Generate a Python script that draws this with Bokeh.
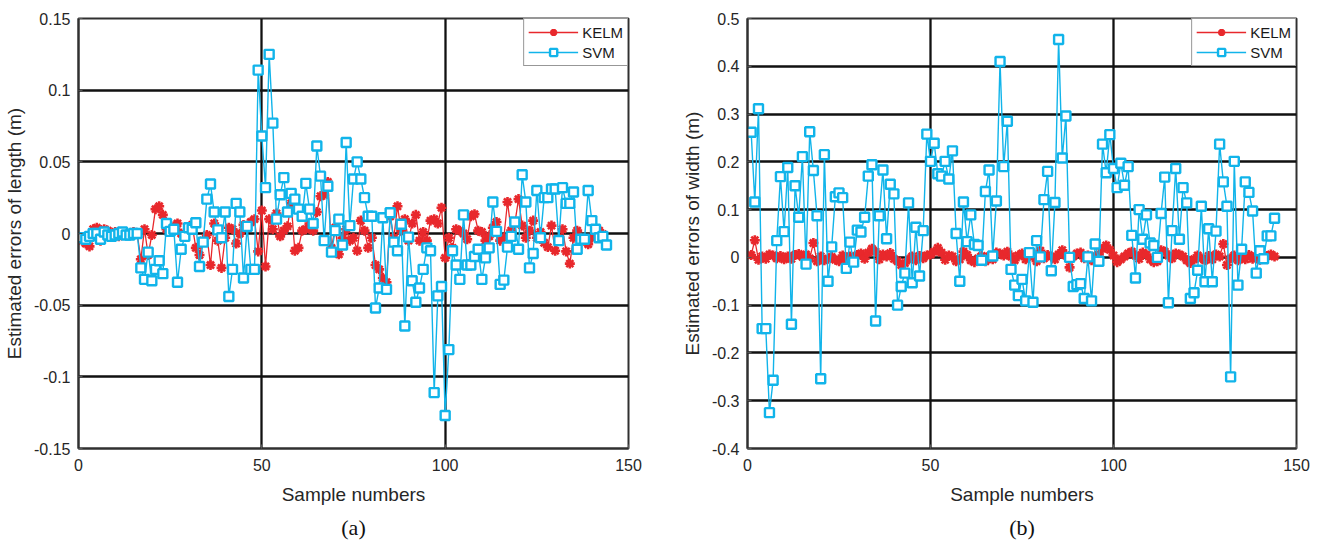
from bokeh.plotting import figure
from bokeh.layouts import row
from bokeh.models import FixedTicker, Legend, LegendItem, Title
from bokeh.embed import file_html
from bokeh.resources import INLINE

# ---------------- data ----------------
samples = list(range(1, 145))

kelm_length = [
    -0.005, -0.007, -0.009, 0.003, 0.004, -0.005, 0.003, 0.002, -0.001, 0.001, -0.002, 0.001, 0.000, -0.001, 0.001, 0.000,
    -0.018, 0.003, -0.015, -0.001, 0.017, 0.019, 0.013, 0.003, 0.002, 0.005, 0.007, 0.000, -0.001, 0.004, 0.006, -0.010,
    -0.015, -0.005, -0.001, -0.022, 0.007, -0.005, -0.024, -0.003, 0.004, 0.003, -0.007, 0.000, 0.006, 0.005, 0.008, 0.010,
    -0.0125, 0.016, -0.023, 0.010, 0.003, 0.014, -0.002, 0.002, 0.005, 0.021, -0.012, -0.010, 0.002, 0.003, 0.007, 0.002,
    0.015, 0.026, 0.027, 0.036, -0.010, 0.004, -0.0145, -0.003, 0.003, -0.005, -0.003, -0.012, 0.009, 0.002, -0.010, -0.003,
    -0.022, -0.025, -0.031, -0.034, 0.012, -0.003, 0.019, 0.002, 0.010, -0.005, 0.007, 0.013, -0.005, 0.001, -0.005, 0.009,
    0.010, 0.007, 0.018, -0.017, -0.003, -0.010, 0.003, 0.002, 0.000, -0.004, 0.012, 0.0135, 0.002, 0.001, -0.005, -0.002,
    0.004, 0.008, -0.005, -0.003, 0.022, 0.002, 0.007, 0.024, 0.0055, -0.003, 0.002, 0.009, -0.003, 0.001, -0.0065, -0.0095,
    0.0055, -0.012, -0.005, 0.003, -0.0125, -0.021, -0.003, 0.002, -0.003, -0.005, -0.0075, -0.003, 0.001, 0.002, -0.0005, -0.0075,
]

svm_length = [
    -0.003, -0.004, -0.002, 0.000, 0.000, -0.004, 0.001, -0.001, -0.002, -0.001, 0.000, 0.001, -0.001, -0.001, 0.000, 0.000,
    -0.024, -0.032, -0.013, -0.033, -0.025, -0.019, -0.028, 0.007, 0.0015, 0.003, -0.034, -0.011, -0.002, 0.004,
    0.003, 0.0075, -0.023, -0.006, 0.024, 0.0345, 0.015, 0.0025, -0.003, 0.015, -0.044, -0.025, 0.021, 0.015, -0.031, 0.005, -0.025, -0.025,
    0.114, 0.068, 0.032, 0.125, 0.077, 0.010, 0.027, 0.039, 0.015, 0.028, 0.024, 0.017, 0.012, 0.035, 0.017, 0.007,
    0.061, 0.040, -0.005, 0.033, -0.013, 0.002, 0.010, -0.008, 0.0635, 0.0055, 0.038, 0.050, 0.038, 0.025, 0.012, 0.012,
    -0.052, -0.038, 0.011, -0.039, 0.0145, -0.006, -0.012, 0.0065, -0.0645, -0.0025, -0.033, -0.048, -0.038, -0.025, -0.010, -0.012,
    -0.111, -0.0435, -0.037, -0.127, -0.081, -0.012, -0.022, -0.032, 0.013, -0.022, -0.022, -0.016, -0.011, -0.032, -0.017, -0.010,
    0.022, 0.0015, -0.0355, -0.0325, -0.0095, -0.002, 0.008, -0.011, 0.041, 0.022, -0.024, -0.014, 0.030, -0.003, 0.025, 0.025,
    0.031, 0.031, -0.005, 0.032, 0.021, 0.021, 0.029, -0.011, -0.004, -0.004, 0.030, 0.009, 0.003, -0.003, -0.002, -0.008,
]

kelm_width = [
    0.005, 0.036, -0.005, 0.002, -0.003, 0.006, 0.004, -0.002, 0.003, -0.004, 0.002, -0.003, 0.005, 0.007, 0.001, 0.006,
    -0.002, 0.030, -0.008, 0.002, -0.006, -0.003, 0.001, -0.005, -0.008, 0.004, -0.006, 0.002, -0.002, 0.005, 0.008, -0.003,
    0.010, 0.018, 0.012, -0.004, 0.006, 0.002, 0.009, -0.003, -0.008, -0.016, -0.012, -0.004, 0.002, -0.006, 0.003, -0.002,
    0.004, 0.006, 0.012, 0.020, 0.010, -0.005, 0.004, 0.002, -0.008, -0.004, 0.012, 0.005, -0.006, -0.010, -0.002, 0.003,
    -0.008, 0.002, -0.004, 0.010, 0.008, 0.004, 0.012, 0.002, -0.006, 0.004, 0.008, -0.004, 0.006, 0.002, -0.008, 0.014,
    -0.002, 0.005, 0.002, -0.004, 0.006, 0.015, 0.004, -0.021, 0.002, 0.008, 0.010, -0.002, 0.004, -0.006, 0.003, 0.006,
    0.018, 0.025, 0.016, 0.004, -0.010, -0.004, 0.002, 0.008, 0.012, 0.004, -0.003, 0.010, 0.006, -0.004, -0.010, -0.008,
    0.015, 0.012, 0.004, -0.002, 0.008, 0.006, 0.002, -0.006, -0.012, -0.004, 0.004, -0.002, -0.006, 0.003, -0.004, 0.006,
    0.002, 0.028, -0.016, -0.002, 0.004, -0.006, 0.002, -0.004, 0.005, -0.003, 0.002, -0.005, 0.004, 0.003, 0.006, 0.002,
]

svm_width = [
    0.262, 0.116, 0.311, -0.149, -0.149, -0.325, -0.257, 0.035, 0.169, 0.054, 0.188, -0.140, 0.150, 0.084, 0.211, -0.014,
    0.263, 0.182, 0.087, -0.254, 0.215, -0.050, 0.022, 0.127, 0.135, 0.125, -0.023, 0.032, -0.010, 0.057, 0.053, 0.084,
    0.170, 0.194, -0.133, 0.087, 0.183, 0.039, 0.153, 0.133, -0.100, -0.061, -0.033, 0.114, -0.053, 0.063, -0.039, 0.056,
    0.258, 0.201, 0.239, 0.175, 0.170, 0.201, 0.164, 0.223, 0.050, -0.050, 0.116, 0.033, 0.089, 0.027, 0.025, -0.006,
    0.138, 0.183, 0.003, 0.118, 0.410, 0.190, 0.285, -0.025, -0.058, -0.080, -0.046, -0.091, 0.010, -0.094, 0.035, 0.001,
    0.121, 0.180, -0.028, 0.115, 0.456, 0.208, 0.296, 0.000, -0.061, -0.057, -0.055, -0.086, 0.001, -0.091, 0.028, -0.008,
    0.237, 0.177, 0.257, 0.186, 0.146, 0.197, 0.151, 0.190, 0.046, -0.043, 0.100, 0.038, 0.089, 0.030, 0.025, 0.000,
    0.092, 0.168, -0.095, 0.056, 0.186, 0.038, 0.146, 0.114, -0.086, -0.074, -0.027, 0.107, -0.051, 0.060, -0.051, 0.055,
    0.237, 0.158, 0.107, -0.250, 0.201, -0.058, 0.017, 0.158, 0.136, 0.097, -0.033, 0.014, -0.003, 0.045, 0.045, 0.082,
]

x_ticks = [0, 50, 100, 150]
y_ticks_a = [-0.15, -0.1, -0.05, 0, 0.05, 0.1, 0.15]
y_labels_a = ["-0.15", "-0.1", "-0.05", "0", "0.05", "0.1", "0.15"]
y_ticks_b = [-0.4, -0.3, -0.2, -0.1, 0, 0.1, 0.2, 0.3, 0.4, 0.5]
y_labels_b = ["-0.4", "-0.3", "-0.2", "-0.1", "0", "0.1", "0.2", "0.3", "0.4", "0.5"]

RED = "#e8282c"
CYAN = "#11b4ea"
SANS = "Liberation Sans"


def make_panel(kelm, svm, yr, yticks, ylabels, ylabel, caption, bl, br, bt, bb):
    p = figure(width=661, height=544, x_range=(0, 150), y_range=yr,
               output_backend="svg", toolbar_location=None,
               min_border_left=bl, min_border_right=br,
               min_border_top=bt, min_border_bottom=bb)
    p.background_fill_color = "white"
    p.border_fill_color = "white"
    p.outline_line_color = "#303030"
    p.outline_line_width = 2

    for ax in (p.xaxis[0], p.yaxis[0]):
        ax.axis_line_color = "#303030"
        ax.axis_line_width = 2
        ax.major_tick_in = 4
        ax.major_tick_out = 0
        ax.minor_tick_line_color = None
        ax.major_tick_line_color = "#555555"
        ax.major_label_text_font = SANS
        ax.major_label_text_font_size = "16px"
        ax.major_label_text_color = "#262626"
        ax.axis_label_text_font = SANS
        ax.axis_label_text_font_size = "19px"
        ax.axis_label_text_font_style = "normal"
        ax.axis_label_text_color = "#262626"

    p.xaxis.ticker = FixedTicker(ticks=x_ticks)
    p.yaxis.ticker = FixedTicker(ticks=yticks)
    p.yaxis.major_label_overrides = {t: s for t, s in zip(yticks, ylabels)}
    p.xaxis.axis_label = "Sample numbers"
    p.yaxis.axis_label = ylabel
    p.xaxis.major_label_standoff = 10
    p.xaxis.axis_label_standoff = 10
    p.yaxis.major_label_standoff = 8
    p.yaxis.axis_label_standoff = 6

    p.xgrid.ticker = FixedTicker(ticks=x_ticks)
    p.ygrid.ticker = FixedTicker(ticks=yticks)
    for g in (p.xgrid[0], p.ygrid[0]):
        g.grid_line_color = "#111111"
        g.grid_line_width = 2.3
        g.grid_line_alpha = 1

    kl = p.line(samples, kelm, line_color=RED, line_width=1.3)
    ks = p.scatter(samples, kelm, marker="asterisk", size=10, line_color=RED, line_width=2.6)
    sl = p.line(samples, svm, line_color=CYAN, line_width=1.4)
    ss = p.scatter(samples, svm, marker="square", size=9, line_color=CYAN,
                   fill_color="white", line_width=2.4)

    legend = Legend(items=[LegendItem(label="KELM", renderers=[kl, ks]),
                           LegendItem(label="SVM", renderers=[sl, ss])],
                    location="top_right")
    legend.label_text_font = SANS
    legend.label_text_font_size = "15px"
    legend.label_text_color = "#1a1a1a"
    legend.glyph_width = 50
    legend.glyph_height = 18
    legend.spacing = 2
    legend.padding = 4
    legend.margin = 0
    legend.label_standoff = 4
    legend.border_line_color = "#303030"
    legend.border_line_width = 1.5
    legend.background_fill_alpha = 1
    p.add_layout(legend, "center")

    t = Title(text=caption, align="center", text_font="Liberation Serif",
              text_font_size="22px", text_font_style="normal", text_color="#111111")
    p.add_layout(t, "below")
    return p


pa = make_panel(kelm_length, svm_length, (-0.15, 0.15), y_ticks_a, y_labels_a,
                "Estimated errors of length (m)", "(a)", 78, 33, 17, 96)
pb = make_panel(kelm_width, svm_width, (-0.4, 0.5), y_ticks_b, y_labels_b,
                "Estimated errors of width (m)", "(b)", 86, 26, 18, 95)

layout = row(pa, pb)
open("out.html", "w").write(file_html(layout, INLINE))
